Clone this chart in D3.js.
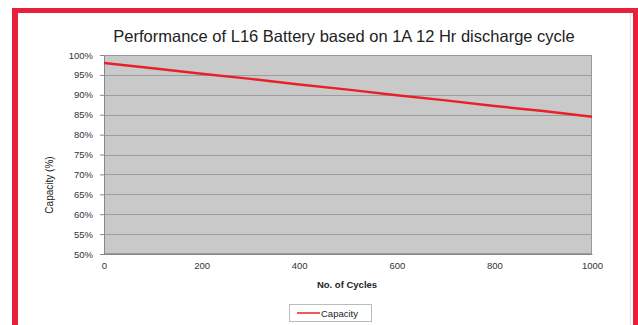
<!DOCTYPE html>
<html><head><meta charset="utf-8">
<script src="https://cdn.jsdelivr.net/npm/d3@7"></script>
<style>
html,body{margin:0;padding:0;background:#fff;}
svg{display:block;font-family:"Liberation Sans",Arial,sans-serif;}
</style></head>
<body>
<svg id="chart" width="638" height="325"></svg>
<script>
const title = "Performance of L16 Battery based on 1A 12 Hr discharge cycle";
const cycles = [0, 100, 200, 300, 400, 500, 600, 700, 800, 900, 1000];
const capacity = [98.0, 96.7, 95.3, 94.0, 92.6, 91.3, 89.9, 88.6, 87.2, 85.9, 84.5];
const xTicks = [0, 200, 400, 600, 800, 1000];
const yTicks = [50, 55, 60, 65, 70, 75, 80, 85, 90, 95, 100];
const seriesName = "Capacity";
const xLabel = "No. of Cycles";
const yLabel = "Capacity (%)";

const svg = d3.select("#chart");
// frame
svg.append("rect").attr("x",0).attr("y",0).attr("width",638).attr("height",325).attr("fill","#fff");
svg.append("rect").attr("x",12).attr("y",8).attr("width",6).attr("height",317).attr("fill","#e8203c");
svg.append("rect").attr("x",12).attr("y",8).attr("width",626).attr("height",5).attr("fill","#e8203c");
svg.append("rect").attr("x",633).attr("y",8).attr("width",5).attr("height",317).attr("fill","#e8203c");
svg.append("line").attr("x1",630.5).attr("x2",630.5).attr("y1",13).attr("y2",325).attr("stroke","#e4e4e4");

const m = {l:104, t:55, r:592, b:254};
const x = d3.scaleLinear().domain([0,1000]).range([m.l, m.r]);
const y = d3.scaleLinear().domain([50,100]).range([m.b, m.t]);

svg.append("rect").attr("x",m.l).attr("y",m.t).attr("width",m.r-m.l).attr("height",m.b-m.t)
  .attr("fill","#c9c9c9");

// grid
svg.append("g").selectAll("line").data(yTicks).join("line")
  .attr("x1",m.l).attr("x2",m.r)
  .attr("y1",d=>Math.round(y(d))+0.5).attr("y2",d=>Math.round(y(d))+0.5)
  .attr("stroke","#9c9c9c").attr("stroke-width",1);
svg.append("rect").attr("x",m.l+0.5).attr("y",m.t+0.5).attr("width",m.r-m.l-1).attr("height",m.b-m.t-1)
  .attr("fill","none").attr("stroke","#9a9a9a");

// axes
const yAxis = d3.axisLeft(y).tickValues(yTicks).tickFormat(d=>d+"%").tickSize(4).tickPadding(7);
const gy = svg.append("g").attr("transform",`translate(${m.l},0)`).call(yAxis);
gy.select(".domain").attr("stroke","#888");
gy.selectAll(".tick line").attr("stroke","#888");
gy.selectAll("text").attr("font-size",9.5).attr("fill","#333");

const xAxis = d3.axisBottom(x).tickValues(xTicks).tickFormat(d3.format("d")).tickSize(0).tickPadding(8);
const gx = svg.append("g").attr("transform",`translate(0,${m.b})`).call(xAxis);
gx.select(".domain").attr("stroke","#888");
gx.selectAll("text").attr("font-size",9.5).attr("fill","#333");

// line
const line = d3.line().x((d,i)=>x(cycles[i])).y(d=>y(d));
svg.append("path").datum(capacity).attr("d",line).attr("fill","none")
  .attr("stroke","#e8202a").attr("stroke-width",2.5);

// title and labels
svg.append("text").attr("x",344).attr("y",42).attr("text-anchor","middle")
  .attr("font-size",16.5).attr("fill","#222").text(title);
svg.append("text").attr("x",347).attr("y",288).attr("text-anchor","middle")
  .attr("font-size",9.5).attr("font-weight","bold").attr("fill","#222").text(xLabel);
svg.append("text").attr("transform","translate(53,185) rotate(-90)").attr("text-anchor","middle")
  .attr("font-size",10).attr("fill","#222").text(yLabel);

// legend
const lg = svg.append("g");
lg.append("rect").attr("x",289.5).attr("y",304.5).attr("width",82).attr("height",17)
  .attr("fill","#fff").attr("stroke","#bbb");
lg.append("line").attr("x1",297).attr("x2",320).attr("y1",313).attr("y2",313)
  .attr("stroke","#e8202a").attr("stroke-width",1.5);
lg.append("text").attr("x",321).attr("y",316.5).attr("font-size",9.5).attr("fill","#222").text(seriesName);
</script>
</body></html>
